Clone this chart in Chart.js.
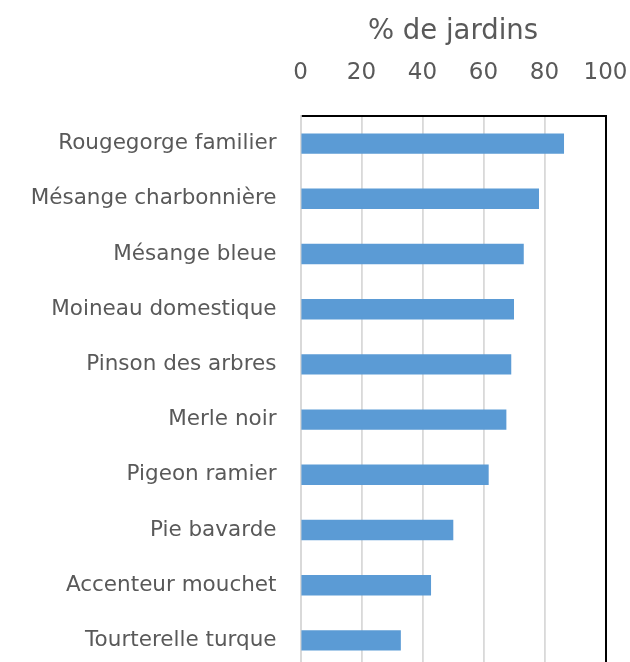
<!DOCTYPE html>
<html>
<head>
<meta charset="utf-8">
<script src="https://cdn.jsdelivr.net/npm/chart.js@4/dist/chart.umd.min.js"></script>
<style>
    html, body { margin: 0; padding: 0; background: #ffffff; overflow: hidden; }
    canvas { display: block; }
</style>
</head>
<body>
<canvas id="chartJardins" width="630" height="668"></canvas>
<script>
// Species (top to bottom) and share of gardens where they were seen
const especes = [
    'Rougegorge familier',
    'Mésange charbonnière',
    'Mésange bleue',
    'Moineau domestique',
    'Pinson des arbres',
    'Merle noir',
    'Pigeon ramier',
    'Pie bavarde',
    'Accenteur mouchet',
    'Tourterelle turque'
];
const pourcentages = [86.4, 78.2, 73.2, 70.0, 69.1, 67.5, 61.7, 50.1, 42.8, 32.9];
const ticksX = [0, 20, 40, 60, 80, 100];

const police = "'DejaVu Sans', 'Noto Sans', sans-serif";
const gris = '#595959';

// no extra room for edge labels, the plot area is fixed like in Excel
function sansMarges(scale) {
    scale.paddingLeft = 0;
    scale.paddingRight = 0;
    scale.paddingTop = 0;
    scale.paddingBottom = 0;
}

const ctx = document.getElementById('chartJardins');

new Chart(ctx, {
    type: 'bar',
    data: {
        labels: especes,
        datasets: [{
            label: '% de jardins',
            data: pourcentages,
            backgroundColor: '#5B9BD5',
            borderWidth: 0,
            barPercentage: 0.37,
            categoryPercentage: 1
        }]
    },
    options: {
        indexAxis: 'y',
        responsive: false,
        animation: false,
        layout: { padding: 0 },
        plugins: {
            legend: { display: false },
            tooltip: { enabled: false }
        },
        scales: {
            x: {
                position: 'top',
                min: 0,
                max: 100,
                afterBuildTicks: function(scale) {
                    scale.ticks = ticksX.map(v => ({ value: v }));
                },
                afterFit: function(scale) {
                    scale.height = 116;
                    sansMarges(scale);
                },
                grid: {
                    color: '#D9D9D9',
                    lineWidth: 1.8,
                    drawTicks: false
                },
                border: { color: '#000000', width: 2 },
                ticks: {
                    padding: 29,
                    color: gris,
                    font: { family: police, size: 23 }
                },
                title: {
                    display: true,
                    text: '% de jardins',
                    color: gris,
                    padding: { top: 15.5, bottom: 0 },
                    font: { family: police, size: 27.5 }
                }
            },
            y: {
                position: 'left',
                afterFit: function(scale) {
                    scale.width = 300.5;
                    sansMarges(scale);
                },
                grid: { display: false, drawTicks: false },
                border: { color: '#D9D9D9', width: 1.8 },
                ticks: {
                    padding: 24,
                    color: gris,
                    font: { family: police, size: 21.5 }
                }
            },
            y2: {
                position: 'right',
                type: 'linear',
                min: 0,
                max: 1,
                afterFit: function(scale) {
                    scale.width = 24.5;
                    sansMarges(scale);
                },
                grid: { display: false, drawTicks: false },
                border: { color: '#000000', width: 2 },
                ticks: { display: false }
            }
        }
    }
});
</script>
</body>
</html>
